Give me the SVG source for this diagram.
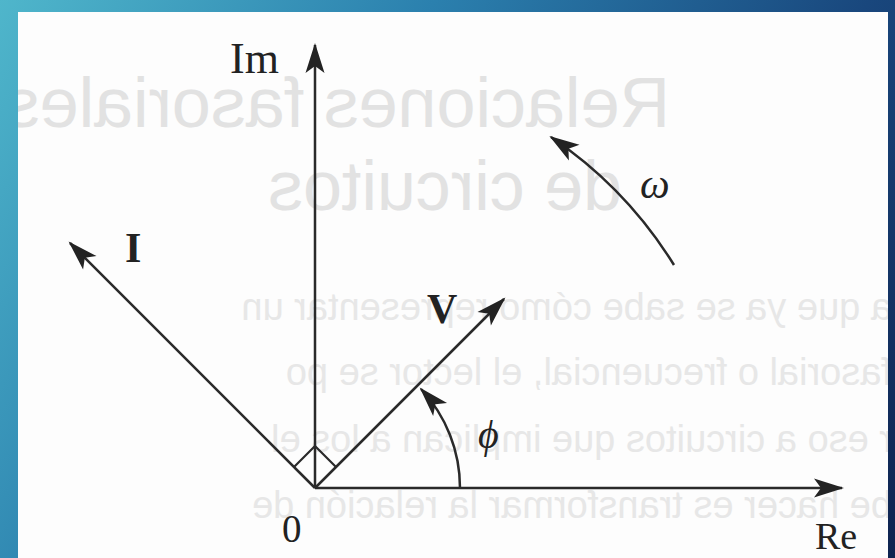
<svg xmlns="http://www.w3.org/2000/svg" width="895" height="558" viewBox="0 0 895 558">
<defs>
<linearGradient id="bg" gradientUnits="userSpaceOnUse" x1="0" y1="0" x2="895" y2="558">
<stop offset="0" stop-color="#4fb6cb"/>
<stop offset="0.35" stop-color="#2b80ae"/>
<stop offset="0.7" stop-color="#19477d"/>
<stop offset="1" stop-color="#0e2350"/>
</linearGradient>
<marker id="ah" markerUnits="userSpaceOnUse" orient="auto" markerWidth="40" markerHeight="30" viewBox="-34 -15 40 30" refX="0" refY="0" overflow="visible">
<path d="M2,0 L-28,-9.5 L-21,0 L-28,9.5 Z" fill="#232323"/>
</marker>
<clipPath id="page"><rect x="18" y="12" width="870" height="546"/></clipPath>
</defs>
<style>
.ln{fill:none;stroke:#2a2a2a;stroke-width:2.5;marker-end:url(#ah)}
.sq{fill:none;stroke:#2a2a2a;stroke-width:2.2}
.lbl{font-family:"Liberation Serif","DejaVu Serif",serif;fill:#222}
.ghost{font-family:"Liberation Sans","DejaVu Sans",sans-serif;fill:#e7e7e7}
</style>
<rect width="895" height="558" fill="url(#bg)"/>
<rect x="18" y="12" width="870" height="546" fill="#fdfdfd"/>
<g id="bleed-through" class="ghost" clip-path="url(#page)">
<g transform="scale(-1,1)">
<text x="-670" y="127" font-size="70" fill="#e2e2e2">Relaciones fasoriales</text>
<text x="-622" y="210" font-size="70" fill="#e2e2e2">de circuitos</text>
<text x="-892" y="320" font-size="38">a que ya se sabe cómo representar un</text>
<text x="-892" y="385" font-size="38">fasorial o frecuencial, el lector se po</text>
<text x="-892" y="452" font-size="38">r eso a circuitos que implican a los el</text>
<text x="-892" y="518" font-size="38">be hacer es transformar la relación de</text>
</g>
</g>
<g id="connectors">
<path id="re-axis" class="ln" d="M315,488 L842,488"/>
<path id="im-axis" class="ln" d="M315,488 L315,45"/>
<path id="phasor-I" class="ln" d="M315,488 L70,243"/>
<path id="phasor-V" class="ln" d="M315,488 L504,299"/>
<path id="arc-phi" class="ln" d="M460,488 A145,145 0 0 0 421,389"/>
<path id="arc-omega" class="ln" d="M674,265 A423,423 0 0 0 551,137"/>
<path id="right-angle" class="sq" d="M294,467 L315,446 L336,467"/>
</g>
<g id="label-Im"><text class="lbl" x="230" y="73" font-size="44">Im</text></g>
<g id="label-Re"><text class="lbl" x="815" y="549" font-size="38">Re</text></g>
<g id="label-0"><text class="lbl" x="282" y="542" font-size="39">0</text></g>
<g id="label-I"><text class="lbl" x="125" y="262" font-size="42" font-weight="bold">I</text></g>
<g id="label-V"><text class="lbl" x="427" y="323" font-size="42" font-weight="bold">V</text></g>
<g id="label-phi"><text class="lbl" x="478" y="448" font-size="40" font-style="italic">ϕ</text></g>
<g id="label-omega"><text class="lbl" x="640" y="198" font-size="42" font-style="italic">ω</text></g>
</svg>
